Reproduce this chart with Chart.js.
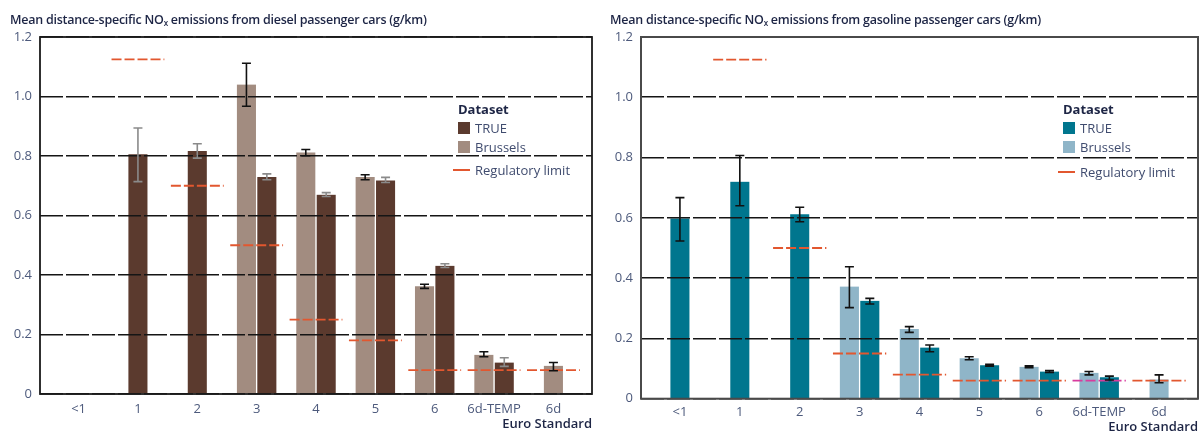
<!DOCTYPE html>
<html>
<head>
<meta charset="utf-8">
<script src="https://cdn.jsdelivr.net/npm/chart.js@4.4.1/dist/chart.umd.min.js"></script>
<style>
  html, body { margin: 0; padding: 0; background: #fff; }
  body { width: 1201px; height: 432px; position: relative; overflow: hidden; font-family: 'Open Sans', sans-serif; }
  .panel { position: absolute; top: 0; height: 432px; overflow: hidden; }
  .panel canvas { position: absolute; left: 0; top: 0; }
  .title { position: absolute; top: 11px; left: 10px; font-size: 12.5px; font-weight: 600; color: #1d2545; white-space: nowrap; letter-spacing: -0.25px; line-height: 18px; }
  .title sub { font-size: 8px; vertical-align: -2px; line-height: 0; }
  .lg { position: absolute; font-size: 13px; line-height: 16px; color: #3f4b6e; white-space: nowrap; }
  .lg.head { font-weight: 700; color: #1d2545; }
  .box { position: absolute; width: 12px; height: 12px; }
  .rule { position: absolute; width: 17px; height: 0; border-top: 2px solid #e2572f; }
</style>
</head>
<body>
<div class="panel" style="left:0;width:600px">
  <canvas id="diesel" width="600" height="432"></canvas>
  <div class="title">Mean distance-specific NO<sub>x</sub> emissions from diesel passenger cars (g/km)</div>
  <div class="lg head" style="left:458px;top:101px">Dataset</div>
  <div class="box" style="left:458px;top:122px;background:#5b3a2e"></div>
  <div class="lg" style="left:475px;top:120px">TRUE</div>
  <div class="box" style="left:458px;top:141px;background:#a28c80"></div>
  <div class="lg" style="left:475px;top:139px">Brussels</div>
  <div class="rule" style="left:453px;top:169px"></div>
  <div class="lg" style="left:475px;top:162px">Regulatory limit</div>
</div>
<div class="panel" style="left:600px;width:601px">
  <canvas id="gasoline" width="601" height="440"></canvas>
  <div class="title">Mean distance-specific NO<sub>x</sub> emissions from gasoline passenger cars (g/km)</div>
  <div class="lg head" style="left:463px;top:101px">Dataset</div>
  <div class="box" style="left:463px;top:122px;background:#00768e"></div>
  <div class="lg" style="left:480px;top:120px">TRUE</div>
  <div class="box" style="left:463px;top:141px;background:#8fb5c8"></div>
  <div class="lg" style="left:480px;top:139px">Brussels</div>
  <div class="rule" style="left:458px;top:171px"></div>
  <div class="lg" style="left:480px;top:164px">Regulatory limit</div>
</div>
<script>
// Euro emission standards on the x axis
const euroStandards = ['<1', '1', '2', '3', '4', '5', '6', '6d-TEMP', '6d'];
const yTickValues = [0, 0.2, 0.4, 0.6, 0.8, 1.0, 1.2];

// Diesel passenger cars, mean NOx (g/km) with error-bar bounds
const dieselTrue         = [null, 0.806, 0.817, 0.729, 0.670, 0.718, 0.431, 0.106, null];
const dieselTrueLow      = [null, 0.714, 0.793, 0.720, 0.664, 0.711, 0.425, 0.093, null];
const dieselTrueHigh     = [null, 0.894, 0.841, 0.740, 0.677, 0.728, 0.438, 0.122, null];
const dieselBrussels     = [null, null, null, 1.040, 0.812, 0.729, 0.362, 0.132, 0.095];
const dieselBrusselsLow  = [null, null, null, 0.967, 0.801, 0.720, 0.355, 0.125, 0.078];
const dieselBrusselsHigh = [null, null, null, 1.112, 0.822, 0.737, 0.369, 0.142, 0.106];
const dieselLimit        = [null, 1.125, 0.70, 0.50, 0.25, 0.18, 0.08, 0.08, 0.08];

// Gasoline passenger cars, mean NOx (g/km) with error-bar bounds
const gasolineTrue         = [0.598, 0.720, 0.612, 0.325, 0.170, 0.111, 0.090, 0.071, null];
const gasolineTrueLow      = [0.523, 0.640, 0.587, 0.314, 0.156, 0.108, 0.087, 0.062, null];
const gasolineTrueHigh     = [0.667, 0.807, 0.635, 0.333, 0.178, 0.114, 0.093, 0.075, null];
const gasolineBrussels     = [null, null, null, 0.372, 0.231, 0.134, 0.106, 0.086, 0.064];
const gasolineBrusselsLow  = [null, null, null, 0.302, 0.220, 0.129, 0.103, 0.079, 0.053];
const gasolineBrusselsHigh = [null, null, null, 0.438, 0.239, 0.139, 0.109, 0.090, 0.079];
const gasolineLimit        = [null, 1.125, 0.50, 0.15, 0.08, 0.06, 0.06, 0.06, 0.06];

const toXY = arr => arr.map((v, i) => ({ x: i, y: v }));

// One short horizontal segment per standard, separated by gaps
function limitPoints(limits) {
  const pts = [];
  limits.forEach((v, i) => {
    if (v === null) return;
    pts.push({ x: i - 0.445, y: v, cat: i }, { x: i + 0.445, y: v, cat: i }, { x: i + 0.5, y: null, cat: i });
  });
  return pts;
}

// Error bars plus the closed frame round the plot area
const overlays = {
  id: 'overlays',
  afterDraw(chart, args, opts) {
    const { ctx, chartArea: a } = chart;
    const yScale = chart.scales.y;
    chart.data.datasets.forEach((ds, di) => {
      if (!ds.errLow) return;
      const meta = chart.getDatasetMeta(di);
      meta.data.forEach((bar, i) => {
        const lo = ds.errLow[i], hi = ds.errHigh[i];
        if (lo == null || hi == null) return;
        const x = bar.x, yl = yScale.getPixelForValue(lo), yh = yScale.getPixelForValue(hi);
        ctx.save();
        ctx.strokeStyle = ds.errColor;
        ctx.lineWidth = 1.6;
        ctx.beginPath();
        ctx.moveTo(x, yl); ctx.lineTo(x, yh);
        ctx.moveTo(x - 4.5, yl); ctx.lineTo(x + 4.5, yl);
        ctx.moveTo(x - 4.5, yh); ctx.lineTo(x + 4.5, yh);
        ctx.stroke();
        ctx.restore();
      });
    });
    ctx.save();
    ctx.strokeStyle = opts.frameColor;
    ctx.lineWidth = opts.frameWidth;
    ctx.strokeRect(a.left, a.top, a.right - a.left, a.bottom - a.top);
    ctx.restore();
  }
};

function buildChart(id, p) {
  const limitData = limitPoints(p.limit);
  return new Chart(document.getElementById(id), {
    data: {
      datasets: [
        {
          type: 'line', label: 'Regulatory limit', data: limitData, order: -1,
          borderColor: '#e2572f', borderWidth: 1.8, borderDash: [10, 3],
          pointRadius: 0, spanGaps: false, fill: false,
          segment: {
            borderColor: c => (limitData[c.p0DataIndex].cat === p.accentCategory ? '#d83c9e' : '#e2572f')
          }
        },
        {
          type: 'bar', label: 'Brussels', data: toXY(p.brussels),
          backgroundColor: p.brusselsColor, borderColor: '#ffffff',
          borderWidth: { left: 1, right: 1, top: 0, bottom: 0 },
          errLow: p.brusselsLow, errHigh: p.brusselsHigh, errColor: p.brusselsErr
        },
        {
          type: 'bar', label: 'TRUE', data: toXY(p.trueVals),
          backgroundColor: p.trueColor, borderColor: '#ffffff',
          borderWidth: { left: 1, right: 1, top: 0, bottom: 0 },
          errLow: p.trueLow, errHigh: p.trueHigh, errColor: p.trueErr
        }
      ]
    },
    options: {
      responsive: false,
      animation: false,
      events: [],
      datasets: { bar: { skipNull: true, grouped: true, barThickness: 20.4 } },
      layout: { padding: { top: p.padTop, right: p.padRight, left: 0, bottom: p.padBottom } },
      plugins: {
        legend: { display: false },
        tooltip: { enabled: false },
        overlays: { frameColor: p.frameColor, frameWidth: p.frameWidth }
      },
      scales: {
        x: {
          type: 'linear', min: -0.65, max: 8.65, offset: false,
          afterBuildTicks: s => { s.ticks = euroStandards.map((c, i) => ({ value: i })); },
          afterFit: s => { s.height = p.xAxisHeight; },
          ticks: {
            callback: v => euroStandards[v],
            font: { family: 'Open Sans', size: 13 }, color: '#4d5a7c',
            padding: p.xTickPad, maxRotation: 0, autoSkip: false
          },
          grid: { display: false, drawTicks: false },
          border: { display: false },
          title: {
            display: true, text: 'Euro Standard', align: 'end',
            font: { family: 'Open Sans', size: 13, weight: '600' }, color: '#1d2545',
            padding: { top: 0, bottom: p.xTitlePad }
          }
        },
        y: {
          type: 'linear', min: 0, max: 1.2,
          afterBuildTicks: s => { s.ticks = yTickValues.map(v => ({ value: v })); },
          afterFit: s => { s.width = p.yAxisWidth; },
          ticks: {
            callback: v => (v === 0 ? '0' : v.toFixed(1)),
            font: { family: 'Open Sans', size: 13 }, color: '#4d5a7c', padding: 8
          },
          grid: { color: '#151515', lineWidth: 1.6, drawTicks: false, z: 1 },
          border: { display: false, dash: [23, 3] }
        }
      }
    },
    plugins: [overlays]
  });
}

buildChart('diesel', {
  trueVals: dieselTrue, trueLow: dieselTrueLow, trueHigh: dieselTrueHigh,
  brussels: dieselBrussels, brusselsLow: dieselBrusselsLow, brusselsHigh: dieselBrusselsHigh,
  limit: dieselLimit, accentCategory: -1,
  trueColor: '#5b3a2e', brusselsColor: '#a28c80',
  trueErr: '#8a8a8a', brusselsErr: '#111111',
  frameColor: '#1a1a1a', frameWidth: 1.8,
  padTop: 37, padRight: 8, padBottom: 0,
  yAxisWidth: 40, xAxisHeight: 38, xTickPad: 7, xTitlePad: 0
});

buildChart('gasoline', {
  trueVals: gasolineTrue, trueLow: gasolineTrueLow, trueHigh: gasolineTrueHigh,
  brussels: gasolineBrussels, brusselsLow: gasolineBrusselsLow, brusselsHigh: gasolineBrusselsHigh,
  limit: gasolineLimit, accentCategory: 7,
  trueColor: '#00768e', brusselsColor: '#8fb5c8',
  trueErr: '#111111', brusselsErr: '#111111',
  frameColor: '#4a4a4a', frameWidth: 2,
  padTop: 37, padRight: 3, padBottom: 0,
  yAxisWidth: 41, xAxisHeight: 41.3, xTickPad: 5.5, xTitlePad: 5
});
</script>
</body>
</html>
